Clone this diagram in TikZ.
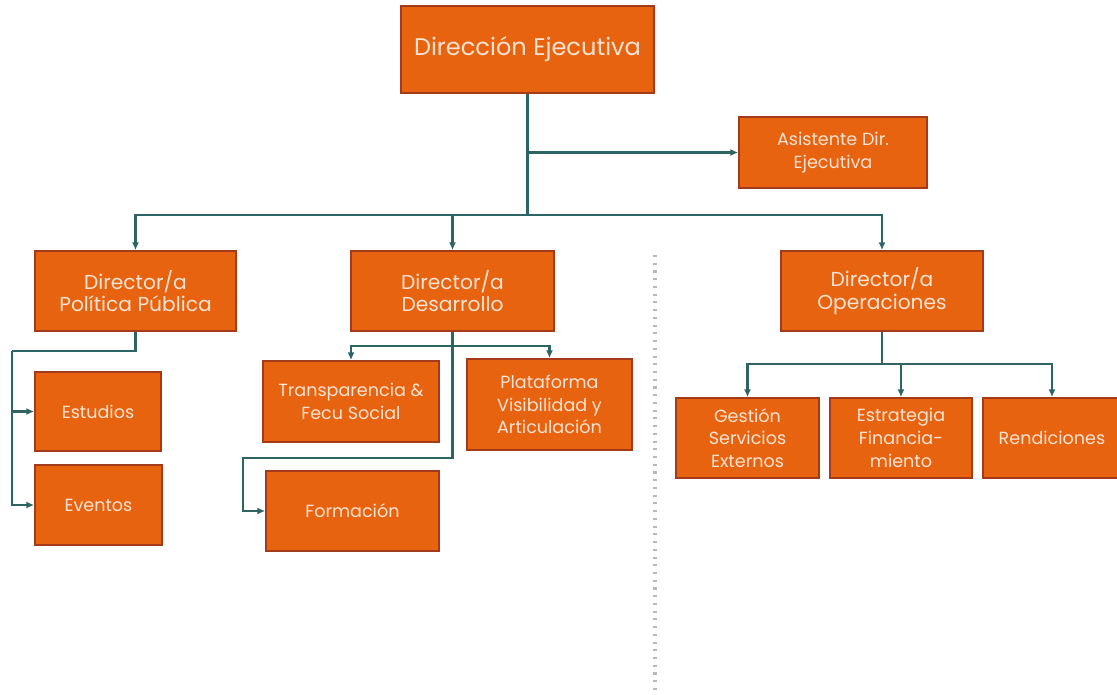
\documentclass[tikz,border=0pt]{standalone}
\usepackage{fontspec}
\setmainfont{Poppins}
\usetikzlibrary{arrows.meta}

\definecolor{boxfill}{HTML}{E8630F}
\definecolor{boxline}{HTML}{A33A1A}
\definecolor{boxtext}{HTML}{FCE4D4}
\definecolor{linkcol}{HTML}{2E6464}

\tikzstyle{unit} = [draw=boxline,fill=boxfill,line width=0.9pt,text=boxtext,align=center,inner sep=2pt]
\tikzstyle{big} = [font=\fontsize{13.7}{16}\selectfont]
\tikzstyle{mid} = [font=\fontsize{11.5}{13}\selectfont]
\tikzstyle{sml} = [font=\fontsize{10}{13}\selectfont]
\tikzstyle{link} = [draw=linkcol,line width=1.4pt]
\tikzstyle{arrowdecorate} = [link,-{Latex[length=4.5pt,width=4pt]}]
\tikzstyle{divider} = [draw=gray!55,line width=1.8pt,dash pattern=on 1.2pt off 3.2pt]

\begin{document}
\begin{tikzpicture}[x=0.02cm,y=-0.02cm]
      \useasboundingbox (0,0) rectangle (1117,694);
      %nodes
      \foreach \nodename/\x/\y/\w/\h/\size/\txt in {
        de/527.5/49.5/253/87/big/{Dirección Ejecutiva},
        asis/833/152.5/188/71/sml/{Asistente Dir.\\Ejecutiva},
        pp/135.5/291/201/80/mid/{Director/a\\Política Pública},
        des/452.5/291/203/80/mid/{Director/a\\Desarrollo},
        ope/882/291/202/80/mid/{Director/a\\Operaciones},
        est/98/411.5/126/79/sml/{Estudios},
        eve/98.5/505/127/80/sml/{Eventos},
        tra/351/401.5/176/81/sml/{Transparencia \&\\Fecu Social},
        pla/549.5/404.5/165/91/sml/{Plataforma\\Visibilidad y\\Articulación},
        for/352.5/511/173/80/sml/{Formación},
        ges/747.5/438/143/80/sml/{Gestión\\Servicios\\Externos},
        estr/901/438/142/80/sml/{Estrategia\\Financia-\\miento},
        ren/1052/438/138/80/sml/{Rendiciones}}
      {
        \node[unit, \size, minimum width=\w*0.02cm, minimum height=\h*0.02cm] (\nodename) at (\x,\y) {\txt};
      };
      \coordinate (bus) at (527.5,215);
      \coordinate (ppbus) at (12,351);
      \coordinate (desbus) at (452.5,346);
      \coordinate (forbus) at (243,458);
      \coordinate (opebus) at (882,364);
      %edges
      \path[link] (de.south) -- (bus);
      \draw[arrowdecorate] (de.south) |- (asis.west);
      \foreach \endnode in {pp, des, ope}
        \draw[arrowdecorate] (bus) -| (\endnode.north);
      \path[link] (pp.south) |- (ppbus);
      \foreach \endnode in {est, eve}
        \draw[arrowdecorate] (ppbus) |- (\endnode.west);
      \draw[arrowdecorate] (des.south) |- (forbus) |- (for.west);
      \foreach \endnode in {tra, pla}
        \draw[arrowdecorate] (desbus) -| (\endnode.north);
      \path[link] (ope.south) -- (opebus);
      \foreach \endnode in {ges, estr, ren}
        \draw[arrowdecorate] (opebus) -| (\endnode.north);
      \draw[divider] (655,255) -- (655,690);
\end{tikzpicture}
\end{document}
